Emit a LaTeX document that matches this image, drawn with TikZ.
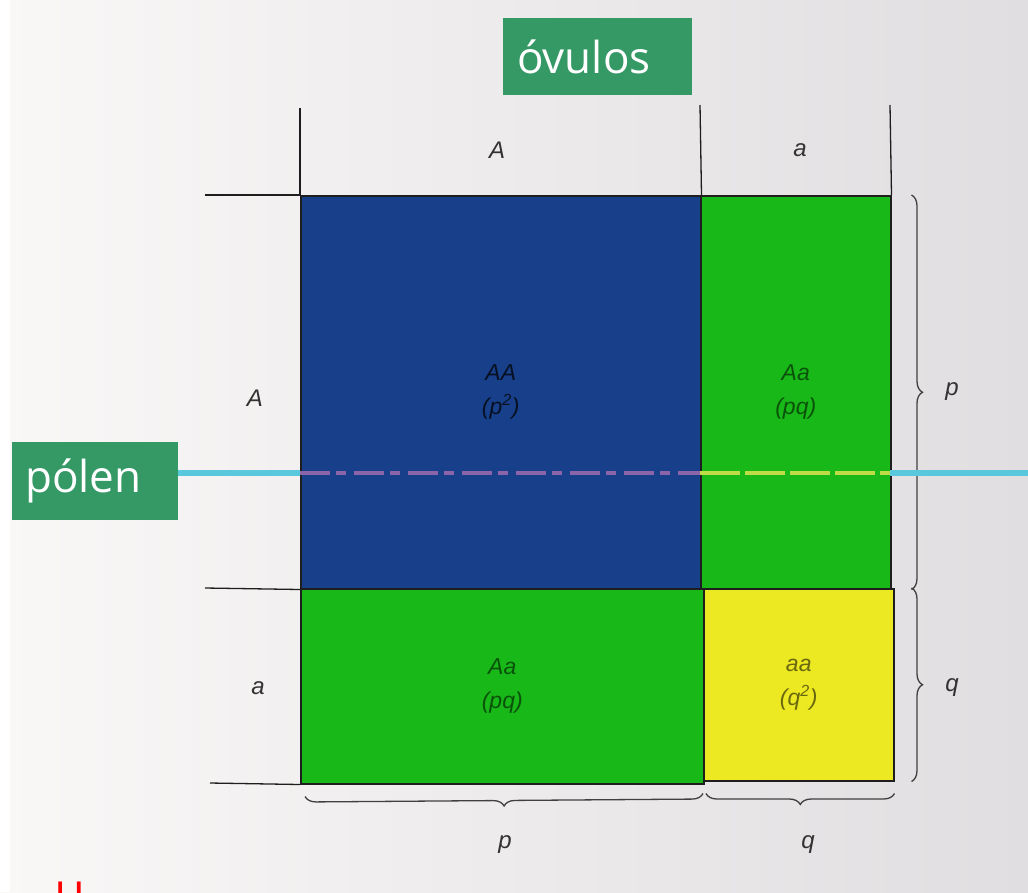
\documentclass[tikz,border=0pt]{standalone}
\usepackage{fontspec}
\setmainfont{Liberation Sans}
\newfontfamily\boxfont{Open Sans}
\usetikzlibrary{decorations.pathreplacing}
\definecolor{bgL}{RGB}{250,247,247}
\definecolor{bgR}{RGB}{224,222,224}
\definecolor{cellblue}{RGB}{24,64,138}
\definecolor{cellgreen}{RGB}{24,184,24}
\definecolor{cellyellow}{RGB}{236,232,34}
\definecolor{tagbg}{RGB}{53,153,102}
\definecolor{cyanline}{RGB}{90,200,220}
\definecolor{gridline}{RGB}{30,30,30}
\tikzset{
  cell/.style={draw=gridline, line width=1.5pt, anchor=north west, inner sep=0pt, align=center,
    font=\itshape\fontsize{23}{34}\selectfont, text=black, text opacity=0.55},
  lab/.style={font=\itshape\fontsize{24}{28}\selectfont, text=black!80, inner sep=0pt},
  tag/.style={fill=tagbg, text=white, font=\boxfont\fontsize{44}{48}\selectfont, inner sep=0pt, anchor=north west, text width=#1, align=left},
  grid/.style={draw=gridline, line width=1.3pt},
  brace/.style={draw=black!75, line width=1.3pt, decorate, decoration={brace, amplitude=11pt}}
}
\begin{document}
\begin{tikzpicture}[x=1pt, y=-1pt]
\useasboundingbox (0,0) rectangle (1028,892);
\shade[left color=bgL, right color=bgR] (0,0) rectangle (1028,892);
\fill[white] (0,0) rectangle (10,892);
% cells
\node[cell, fill=cellblue, minimum width=400pt, minimum height=393pt, text opacity=0.75] (AA) at (300,195) {AA\\(p\textsuperscript{2})};
\node[cell, fill=cellgreen, minimum width=190pt, minimum height=393pt] (Aa1) at (700,195) {Aa\\(pq)};
\node[cell, fill=cellgreen, minimum width=403pt, minimum height=195pt] (Aa2) at (300,588) {Aa\\(pq)};
\node[cell, fill=cellyellow, minimum width=190pt, minimum height=192pt] (aa) at (703,588) {aa\\(q\textsuperscript{2})};
% grid lines
\coordinate (t1) at (300,108); \coordinate (t2) at (700,105); \coordinate (t3) at (890,105);
\coordinate (h1) at (205,195); \coordinate (h2) at (205,588); \coordinate (h3) at (210,783);
\draw[grid] (t1) -- (AA.north west);
\draw[grid] (t2) -- (AA.north east);
\draw[grid] (t3) -- (Aa1.north east);
\draw[grid] (h1) -- (AA.north west);
\draw[grid] (h2) -- (AA.south west);
\draw[grid] (h3) -- (Aa2.south west);
% labels
\node[lab] (topA) at (497,150) {A};
\node[lab] (topa) at (800,150) {a};
\node[lab] (leftA) at (255,398) {A};
\node[lab] (lefta) at (258,688) {a};
% braces
\draw[brace] ([xshift=20pt]Aa1.north east) coordinate (bp1) -- ([xshift=20pt]Aa1.south east) coordinate (bp2);
\draw[brace] ([xshift=17pt]aa.north east) coordinate (bq1) -- ([xshift=17pt]aa.south east) coordinate (bq2);
\node[lab] (rp) at (952,392) {p};
\node[lab] (rq) at (952,688) {q};
\draw[brace] ([yshift=-12pt]aa.south west) coordinate (bb1) -- ([yshift=-12pt,xshift=5pt]Aa2.south west) coordinate (bb2);
\draw[brace] ([yshift=-12pt]aa.south east) coordinate (bc1) -- ([yshift=-12pt,xshift=3pt]aa.south west) coordinate (bc2);
\node[lab] (bp) at (505,845) {p};
\node[lab] (bq) at (808,845) {q};
% tags
\node[tag=161pt, minimum height=77pt, inner xsep=14pt] (ovulos) at (503,18) {óvulos};
\node[tag=140pt, minimum height=78pt, inner xsep=13pt] (polen) at (12,442) {pólen};
% cyan line
\coordinate (c0) at (1028,473);
\draw[cyanline, line width=6pt] (polen.east |- 0,473) -- (300,473);
\draw[cyanline, line width=6pt] (890,473) -- (c0);
\draw[color={rgb,255:red,140;green,100;blue,170}, line width=4pt, dash pattern=on 30pt off 6pt on 10pt off 8pt] (300,473) -- (700,473);
\draw[color={rgb,255:red,190;green,220;blue,70}, line width=4pt, dash pattern=on 40pt off 5pt] (700,473) -- (890,473);
% red mark
\node[text=red, font=\fontsize{40}{40}\selectfont, anchor=north west, inner sep=0pt] (mark) at (55,882) {H};
\end{tikzpicture}
\end{document}
